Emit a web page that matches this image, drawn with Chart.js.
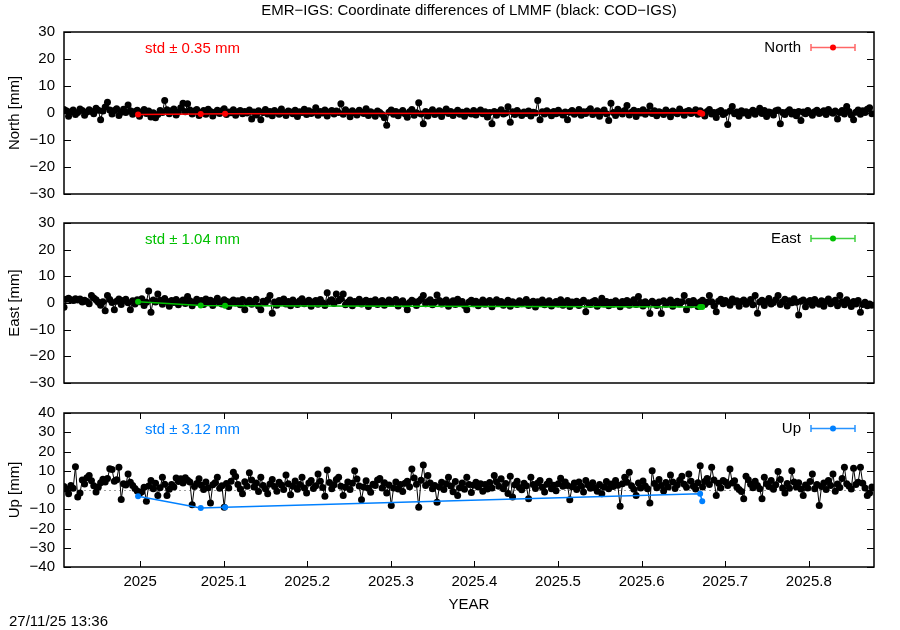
<!DOCTYPE html>
<html>
<head>
<meta charset="utf-8">
<script src="https://cdn.jsdelivr.net/npm/chart.js@4.4.1/dist/chart.umd.min.js"></script>
<style>
  body { margin: 0; background: #fff; }
  canvas { position: absolute; left: 0; }
</style>
</head>
<body>
<canvas id="north" width="900" height="212" style="top:0px"></canvas>
<canvas id="east" width="900" height="201" style="top:200px"></canvas>
<canvas id="up" width="900" height="235" style="top:395px"></canvas>
<script>
// daily COD-IGS solutions, first epoch in decimal years
var firstEpoch = 2024.909;
var xMin = 2024.909, xMax = 2025.878;

var northCOD = [
  1.3, 0.8, -1.2, 0.5, 1.1, -0.6, 0.2, 1.5, 0.9, -0.8, 0.4, 1.2, 0.6, -0.3, 1.8, 1.0, -2.5, 0.7, 2.2, 4.0,
  1.1, -0.4, 0.9, 1.6, -0.9, 0.3, 1.4, 0.2, 3.0, 0.8, -0.5, 0.6, 1.0, -1.2, 0.4, 1.3, -0.2, 0.7, -1.5, 0.1,
  -1.8, -0.6, 0.9, 0.2, 4.6, 1.2, -0.3, 0.8, 1.5, -0.7, 0.4, 1.9, 3.6, 0.5, 3.4, 1.1, -0.4, 0.7, 1.3, -0.9,
  0.2, 0.9, -0.5, 1.4, 0.6, -1.1, 0.3, 1.0, -0.2, 0.8, 1.6, -0.6, 0.4, 0.1, 1.2, -0.8, 0.5, 0.9, -0.3, 0.6,
  0.0, 1.1, -2.2, 0.4, -0.7, 0.8, -2.5, 0.2, 1.3, -0.4, 0.6, -1.0, 0.9, 0.3, -0.5, 1.5, 0.1, -0.9, 0.7, 0.4,
  -0.3, 1.0, -1.3, 0.5, 0.2, 1.4, -0.6, 0.8, -0.2, 0.3, 1.9, -0.8, 0.6, 0.0, 1.1, -1.1, 0.4, 0.9, -0.4, 0.7,
  0.2, 3.4, -0.5, 1.2, 0.4, -1.4, 0.8, 0.1, -0.7, 1.0, 0.3, -0.2, 1.6, -0.9, 0.5, 0.0, -1.2, 0.7, 0.2, -0.6,
  -1.8, -4.5, 0.3, 1.1, -0.5, 0.6, -1.0, 0.2, 0.9, -0.3, -1.6, 0.5, 1.3, -0.8, 0.1, 3.8, -0.4, -4.0, 0.6, -1.1,
  0.3, 1.2, -0.6, 0.0, 0.8, -1.3, 0.4, 1.5, -0.2, 0.6, -0.9, 0.2, 1.0, -0.5, 0.3, -1.2, 0.7, 0.1, -0.4, 0.9,
  -0.7, 0.4, 1.1, -0.3, 0.5, -1.5, 0.2, -4.0, 0.6, -0.8, 0.3, 1.2, -0.4, 0.0, 2.3, -3.4, 0.5, -0.6, 0.9, 0.1,
  -0.9, 0.4, -0.2, 0.7, -1.1, 0.3, 0.0, 4.6, -2.5, 0.5, -0.4, 0.8, 0.2, -1.0, 0.6, -0.3, 1.0, 0.1, -0.7, 0.4,
  -2.5, 0.3, 0.9, -0.5, 0.2, 1.3, -0.8, 0.5, -0.2, 0.7, 1.6, -0.6, 0.1, 0.8, -1.2, 0.4, 1.1, -0.3, -2.8, 3.6,
  0.2, -0.9, 1.4, 0.5, -0.4, 0.9, 2.8, -0.7, 0.3, 1.0, -1.3, 0.6, 0.0, 1.2, -0.5, 0.4, 2.6, -0.2, 0.8, -1.0,
  0.5, 0.1, -0.6, 1.1, 0.3, -1.4, 0.7, 0.2, -0.3, 1.5, 0.4, -0.8, 0.6, 0.9, -0.2, 0.3, 1.2, -0.5, 0.8, 0.0,
  -1.1, 0.6, 1.3, -0.4, 0.2, -1.7, 0.5, 0.9, -0.6, 0.1, -4.3, 0.7, 2.4, -0.3, 0.4, -1.2, 0.8, 0.0, 0.5, -0.9,
  0.3, 1.0, -0.5, 0.6, 1.8, -0.2, 0.9, -1.3, 0.4, 0.1, -0.7, 0.8, 1.1, -4.0, 0.2, -0.6, 0.5, 1.2, -0.4, 0.3,
  -1.0, 0.6, -2.8, 0.4, -0.3, 0.9, 0.1, -0.8, 0.5, 1.0, -0.2, 0.3, 0.8, -0.6, 1.3, 0.4, -0.1, 0.7, -2.2, 0.2,
  0.9, -0.4, 2.4, 0.6, -0.7, -2.5, 0.3, 1.1, -0.5, 0.8, 0.2, 1.4, 1.9, -0.3
];

var eastCOD = [
  -1.6, 1.4, 1.8, 1.2, 0.9, 1.6, 1.1, 1.5, 0.4, 1.0, 0.6, -0.3, 2.8, 1.9, 1.2, 0.3, -0.8, 0.5, -2.9, 2.8,
  1.3, 0.2, -2.5, 0.7, 1.5, -0.6, 0.9, 1.4, 0.1, -2.5, 0.8, -0.4, 1.2, 0.5, 1.6, -0.9, 0.3, 4.5, -3.5, 1.1,
  0.4, 3.4, 1.0, -0.5, 1.7, 0.6, -1.2, 0.9, 0.2, 1.3, -0.7, 0.5, 1.1, -0.2, 2.4, 0.8, -1.0, 0.4, 1.4, 0.1,
  0.9, -0.6, 1.5, 0.3, 1.0, -0.9, 0.6, 1.8, 0.2, -0.4, 1.2, 0.7, -1.3, 0.5, 1.1, 0.0, 0.8, -0.7, 1.3, -2.5,
  0.3, 1.0, -0.5, 0.6, 1.4, -1.1, -2.5, 0.7, 0.2, 1.2, 2.8, -3.8, 0.4, -0.8, 0.9, 0.3, 1.5, -0.4, 0.6, -1.0,
  1.1, 0.2, -0.6, 0.8, 1.6, -0.3, 0.5, 1.0, -1.2, 0.4, 0.9, -0.5, 1.3, 0.1, -0.9, 3.8, 0.6, 1.2, -0.2, 3.4,
  0.8, 1.5, 3.4, -0.7, 0.3, 1.1, -1.0, 0.6, 0.2, 1.4, -0.4, 0.5, 1.0, -1.3, 0.7, 0.0, 1.2, -0.6, 0.4, 0.9,
  -0.8, 0.3, 1.1, -0.2, 0.6, 1.3, -1.1, 0.4, 0.8, -0.5, -2.5, 0.2, 1.0, 0.5, -0.9, 0.7, 1.4, 2.8, -0.3, 0.6,
  1.2, -0.7, 0.3, 3.0, 0.9, -0.4, 0.5, 1.1, -1.2, 0.2, 0.8, -0.6, 1.4, 0.0, 0.6, -0.9, -2.5, 0.4, 1.0, -0.3,
  0.7, -1.0, 0.2, 1.1, -0.5, 0.4, 0.9, -1.4, 0.3, 1.2, -0.2, 0.6, -0.8, 0.1, 1.0, -1.2, 0.5, 0.0, -0.6, 0.8,
  -0.3, 0.4, 1.3, -0.9, 0.2, 0.7, -1.5, 0.5, -0.1, 1.1, -0.7, 0.3, 0.8, -1.1, 0.0, 0.6, -0.4, 1.2, -0.8, 0.2,
  0.9, -1.3, 0.4, -0.2, 0.7, -0.9, 0.3, 1.0, -3.3, 0.1, -0.6, 0.5, 0.9, -1.2, 0.2, 1.8, -0.4, 0.6, -1.0, 0.3,
  -0.5, 0.8, 0.1, -1.4, 0.6, -0.3, 0.9, -0.8, 0.4, 1.2, -0.6, 2.4, 0.2, -1.1, 0.5, -0.2, -3.9, 0.7, 0.0, -0.9,
  0.4, -3.9, 0.8, -0.5, 0.3, 1.1, -1.2, 0.2, 0.7, -0.4, 0.5, 2.8, -2.5, 0.6, -0.7, 0.9, 0.1, -1.3, 0.4, 1.0,
  -0.6, 0.3, 2.8, 0.5, -1.0, -3.3, 0.7, 1.4, -0.3, 0.9, 0.2, -0.8, 1.5, 0.4, 0.8, -1.2, 0.6, 1.1, -0.5, 0.3,
  1.3, -0.7, 2.8, -3.8, 0.4, 1.0, -0.9, 0.6, 1.7, -0.4, 0.2, 1.2, 2.8, -0.6, 0.5, 1.4, -1.1, 0.8, 0.1, 1.6,
  0.3, -4.5, 0.7, 1.1, -1.4, 0.4, 0.9, -0.8, 1.3, 0.2, -0.5, 0.8, -1.2, 0.6, 1.5, -0.3, 0.4, 1.0, -1.0, 2.8,
  0.5, -0.7, 1.2, 0.1, -1.3, 0.6, -0.4, 0.9, -3.5, -0.6, 0.3, -1.0, -0.4, -0.8
];

var upCOD = [
  1.8, 0.5, -2.0, 2.4, 0.9, 12.1, -3.7, -1.5, 5.2, 3.1, 6.4, 7.5, 4.8, 2.2, -1.0, 1.5, 3.8, 5.6, 4.2, 6.0,
  11.0, 10.6, 4.5, 5.3, 11.8, -4.9, 3.2, 2.6, 8.3, 4.0, 2.3, 0.8, -0.5, -1.8, -0.9, 1.4, -5.8, 2.1, 5.0, 0.6,
  3.5, -2.8, 1.2, 6.6, 3.0, -2.8, 0.4, 2.9, 1.6, 6.2, 4.4, 5.8, 3.6, 6.4, 5.1, 4.2, -7.7, 1.8, 3.4, 5.8,
  2.5, 0.3, 4.1, 1.2, -6.8, 2.7, 3.8, 6.6, 0.9, 2.2, -8.9, 3.4, 1.0, 4.6, 9.2, 7.0, 2.8, 0.5, -2.0, 4.3,
  2.0, 8.9, 5.2, 1.5, 3.7, -0.8, 6.6, 2.4, 0.7, -2.0, 3.1, 5.4, 1.8, -0.6, 4.0, 2.6, 0.2, 7.8, 3.3, -2.5,
  1.9, 4.7, 0.4, 2.8, 6.6, 1.1, -1.5, 3.6, 5.0, 0.8, 2.2, 8.3, 4.5, 1.3, -3.2, 10.4, 3.9, 0.6, 2.7, 5.5,
  6.6, 2.0, -2.8, 1.4, 4.1, 0.3, 3.5, 10.0, 5.7, 2.1, -5.1, 1.6, 4.8, 0.9, -1.2, 3.0, 2.4, 5.2, 6.0, 1.0,
  3.8, -1.5, 2.6, -8.0, 1.1, 4.2, 0.5, 2.9, -0.8, 3.5, 4.5, 1.7, 10.9, 6.2, 3.0, -8.9, 5.1, 13.0, 2.3, 7.5,
  3.6, 0.7, 2.4, -6.3, 1.5, 4.0, 0.2, 3.3, 6.6, 2.1, -0.9, 4.4, -2.8, 1.2, 3.7, 0.4, 6.6, 2.9, -1.3, 2.5,
  4.0, 1.6, 3.2, -0.7, 2.8, 0.5, 3.9, 1.1, 7.5, 4.3, 2.0, 5.8, 0.6, 3.4, -1.8, 7.1, -3.7, 2.7, 4.6, 1.3,
  0.1, 3.5, 2.2, -4.6, 6.6, 2.9, 0.8, 3.7, 5.0, 1.4, -1.1, 3.0, 4.5, 0.6, 2.5, -0.4, 3.2, 6.1, 1.9, 4.2,
  2.4, -5.1, 1.7, 3.6, 0.3, 4.1, 2.0, -1.0, 5.0, 2.6, 0.9, 3.8, 1.2, -0.6, 2.9, -2.0, 1.5, 4.4, 0.7, 3.1,
  1.8, 5.0, 2.5, -8.5, 3.3, 6.6, 4.0, 9.2, 2.2, 0.4, -2.8, 3.6, 1.0, 4.7, 2.1, 0.6, -6.8, 10.0, 3.4, 1.2,
  5.5, 2.3, -0.5, 3.9, 1.6, 7.8, 4.2, 0.8, 2.7, 5.1, 7.1, 3.0, 1.4, 8.3, 4.6, 2.0, 0.5, 3.8, 12.6, 1.5,
  4.4, 6.0, 2.9, 11.8, 5.2, -2.8, 3.5, 1.0, 5.0, 4.1, 2.3, 10.9, 3.7, 4.8, 1.6, 0.2, -0.8, -4.6, 7.1, 5.3,
  3.0, 1.2, 4.5, 2.4, 0.6, -4.6, 6.6, 3.3, 1.8, 4.9, 0.4, 2.7, 9.6, 5.5, 1.1, -1.6, 3.4, 0.9, 10.0, 4.2,
  1.5, 3.8, 0.5, -2.8, 2.6, 1.0, 4.4, 8.3, 0.7, 2.9, -8.0, 1.8, 3.6, 0.2, 4.9, 2.4, 8.3, -0.6, 3.1, 1.3,
  6.0, 11.8, 3.2, 2.1, 0.5, 11.3, 2.8, 4.0, 11.8, 3.5, 1.0, -2.8, -1.5, 1.5
];

// EMR-IGS solutions (few epochs)
var emrEpochs = [2024.9976, 2025.0726, 2025.1017, 2025.6700, 2025.6725];
var northEMR = [-0.55, -0.35, -0.3, 0.05, -0.3];
var eastEMR = [0.5, -0.9, -1.0, -1.5, -1.5];
var upEMR = [-3.3, -9.4, -8.9, -2.0, -5.9];

var stdLabels = ['std \u00b1 0.35 mm', 'std \u00b1 1.04 mm', 'std \u00b1 3.12 mm'];
var keyLabels = ['North', 'East', 'Up'];
var axisLabels = ['North [mm]', 'East [mm]', 'Up [mm]'];

var FONT = '"Liberation Sans", Arial, Helvetica, sans-serif';

function daily(values) {
  return values.map(function(v, i) { return { x: firstEpoch + i / 365.25, y: v }; });
}
function pairs(xs, ys) {
  return xs.map(function(x, i) { return { x: x, y: ys[i] }; });
}

// gnuplot-ish decorations: inward ticks, frame, std text, key, title
var gnuPlugin = {
  id: 'gnu',
  beforeDatasetsDraw: function(chart) {
    var ctx = chart.ctx, a = chart.chartArea;
    var y0 = Math.round(chart.scales.y.getPixelForValue(0)) + 0.5;
    ctx.save();
    ctx.strokeStyle = '#a0a0a0';
    ctx.lineWidth = 1;
    ctx.setLineDash([2, 3]);
    ctx.beginPath();
    ctx.moveTo(a.left, y0);
    ctx.lineTo(a.right, y0);
    ctx.stroke();
    ctx.restore();
  },
  afterDraw: function(chart, args, o) {
    var ctx = chart.ctx, a = chart.chartArea;
    var ys = chart.scales.y, xs = chart.scales.x;
    ctx.save();
    ctx.strokeStyle = '#000';
    ctx.lineWidth = 1;
    ctx.beginPath();
    ys.ticks.forEach(function(t) {
      var py = Math.round(ys.getPixelForValue(t.value)) + 0.5;
      ctx.moveTo(a.left, py); ctx.lineTo(a.left + 7, py);
      ctx.moveTo(a.right, py); ctx.lineTo(a.right - 7, py);
    });
    if (o.xTicks) {
      xs.ticks.forEach(function(t) {
        var px = Math.round(xs.getPixelForValue(t.value)) + 0.5;
        ctx.moveTo(px, a.bottom); ctx.lineTo(px, a.bottom - 6);
        ctx.moveTo(px, a.top); ctx.lineTo(px, a.top + 6);
      });
    }
    ctx.stroke();
    ctx.lineWidth = 1.5;
    ctx.strokeRect(a.left, a.top, a.right - a.left, a.bottom - a.top);

    ctx.font = '15px ' + FONT;
    ctx.textBaseline = 'middle';
    ctx.textAlign = 'left';
    ctx.fillStyle = o.color;
    ctx.fillText(o.std, a.left + 81, a.top + 16.5);

    ctx.fillStyle = '#000';
    ctx.textAlign = 'right';
    ctx.fillText(o.key, a.right - 73, a.top + 16);

    // key sample: errorbar style
    var ky = a.top + 15.5, x1 = a.right - 63, x2 = a.right - 19;
    ctx.strokeStyle = o.keyLine;
    ctx.lineWidth = 1.5;
    ctx.beginPath();
    ctx.moveTo(x1, ky); ctx.lineTo(x2, ky);
    ctx.moveTo(x1, ky - 3.5); ctx.lineTo(x1, ky + 3.5);
    ctx.moveTo(x2, ky - 3.5); ctx.lineTo(x2, ky + 3.5);
    ctx.stroke();
    ctx.fillStyle = o.color;
    ctx.beginPath();
    ctx.arc((x1 + x2) / 2, ky, 3, 0, 2 * Math.PI);
    ctx.fill();

    ctx.fillStyle = '#000';
    if (o.title) {
      ctx.textAlign = 'center';
      ctx.fillText(o.title, (a.left + a.right) / 2, 11);
    }
    if (o.stamp) {
      ctx.textAlign = 'left';
      ctx.fillText(o.stamp, 9, chart.height - 8);
    }
    ctx.restore();
  }
};

function makePanel(id, n, cod, emr, opt) {
  var f = { family: FONT, size: 15 };
  var ctx = document.getElementById(id).getContext('2d');
  return new Chart(ctx, {
    type: 'line',
    data: {
      datasets: [{
        label: 'EMR-IGS',
        data: pairs(emrEpochs, emr),
        borderColor: opt.color,
        backgroundColor: opt.color,
        borderWidth: 1.5,
        pointRadius: 3,
        pointBorderWidth: 0,
        tension: 0
      }, {
        label: 'COD-IGS',
        data: daily(cod),
        borderColor: '#000',
        backgroundColor: '#000',
        borderWidth: 1,
        pointRadius: 3.5,
        pointBorderWidth: 0,
        tension: 0
      }]
    },
    plugins: [gnuPlugin],
    options: {
      responsive: false,
      animation: false,
      events: [],
      layout: { padding: { top: opt.padTop, bottom: opt.padBottom, left: 0, right: 26 } },
      plugins: {
        legend: { display: false },
        tooltip: { enabled: false },
        gnu: {
          color: opt.color, keyLine: opt.keyLine, std: stdLabels[n], key: keyLabels[n],
          xTicks: opt.showX, title: opt.title, stamp: opt.stamp
        }
      },
      scales: {
        x: {
          type: 'linear', min: xMin, max: xMax, display: opt.showX,
          grid: { display: false, drawTicks: false }, border: { display: false },
          ticks: {
            stepSize: 0.1, includeBounds: false, padding: 6, color: '#000', font: f,
            maxRotation: 0, autoSkip: false,
            callback: function(v) { return String(Math.round(v * 10) / 10); }
          },
          title: { display: true, text: 'YEAR', color: '#000', font: f, padding: { top: 0, bottom: 16 } },
          afterFit: function(s) { if (opt.showX) s.height = 63; }
        },
        y: {
          min: opt.min, max: opt.max,
          grid: { display: false, drawTicks: false }, border: { display: false },
          ticks: {
            stepSize: 10, padding: 9, color: '#000', font: f, autoSkip: false,
            callback: function(v) { return String(v).replace('-', '\u2212'); }
          },
          title: { display: true, text: axisLabels[n], color: '#000', font: f, padding: { top: 6, bottom: 0 } },
          afterFit: function(s) { s.width = 64; }
        }
      }
    }
  });
}

makePanel('north', 0, northCOD, northEMR, {
  color: '#ff0000', keyLine: 'rgba(255,0,0,0.6)', min: -30, max: 30, padTop: 32, padBottom: 0,
  showX: false, title: 'EMR\u2212IGS: Coordinate differences of LMMF (black: COD\u2212IGS)'
});
makePanel('east', 1, eastCOD, eastEMR, {
  color: '#00c000', keyLine: 'rgba(0,192,0,0.75)', min: -30, max: 30, padTop: 23, padBottom: 0,
  showX: false
});
makePanel('up', 2, upCOD, upEMR, {
  color: '#0080ff', keyLine: 'rgba(0,128,255,0.85)', min: -40, max: 40, padTop: 17, padBottom: 0,
  showX: true, stamp: '27/11/25 13:36'
});
</script>
</body>
</html>
